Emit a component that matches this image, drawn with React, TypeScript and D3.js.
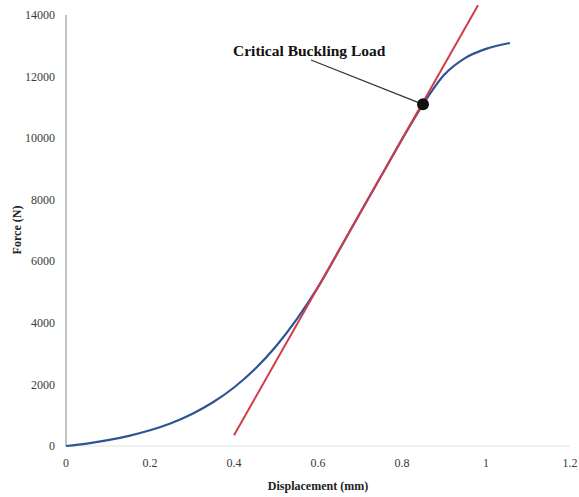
import React from "react";
import * as d3 from "d3";

// Force–displacement response of the specimen
const displacement = [0, 0.05, 0.1, 0.15, 0.2, 0.25, 0.3, 0.35, 0.4, 0.45, 0.5, 0.55, 0.6, 0.65, 0.7, 0.75, 0.8, 0.85, 0.9, 0.95, 1.0, 1.057];
const force = [0, 80, 190, 330, 510, 740, 1040, 1420, 1900, 2500, 3240, 4130, 5160, 6350, 7560, 8760, 9960, 11100, 12050, 12600, 12900, 13090];

// Linear (elastic) fit drawn as a straight line
const fitDisplacement = [0.4, 0.981];
const fitForce = [350, 14320];

// Critical buckling point
const criticalPoint = { x: 0.85, y: 11100 };
const criticalLabel = "Critical Buckling Load";

const xTicks = [0, 0.2, 0.4, 0.6, 0.8, 1, 1.2];
const yTicks = [0, 2000, 4000, 6000, 8000, 10000, 12000, 14000];

const W = 579;
const H = 497;
const left = 66;
const right = 570;
const top = 15;
const bottom = 446;

export default function App() {
  const x = d3.scaleLinear().domain([0, 1.2]).range([left, right]);
  const y = d3.scaleLinear().domain([0, 14000]).range([bottom, top]);

  const curve = d3
    .line<number>()
    .x((_, i) => x(displacement[i]))
    .y((d) => y(d))
    .curve(d3.curveMonotoneX)(force) as string;

  const fit = d3
    .line<number>()
    .x((_, i) => x(fitDisplacement[i]))
    .y((d) => y(d))(fitForce) as string;

  const px = x(criticalPoint.x);
  const py = y(criticalPoint.y);
  const serif = "'Liberation Serif', 'Times New Roman', serif";

  return (
    <svg
      width={W}
      height={H}
      style={{ position: "absolute", left: 0, top: 0, background: "#fff" }}
      fontFamily={serif}
    >
      {/* axes */}
      <line x1={left} x2={right} y1={bottom} y2={bottom} stroke="#e2e2e2" strokeWidth={1} />
      <line x1={left} x2={left} y1={top} y2={bottom} stroke="#9a9a9a" strokeWidth={1.2} />

      {yTicks.map((t) => (
        <text key={t} x={left - 11} y={y(t)} dy="0.35em" textAnchor="end" fontSize={12} fill="#3a3a3a">
          {t}
        </text>
      ))}
      {xTicks.map((t) => (
        <text key={t} x={x(t)} y={467} textAnchor="middle" fontSize={12} fill="#3a3a3a">
          {t}
        </text>
      ))}

      <text x={318} y={490} textAnchor="middle" fontSize={12} fontWeight="bold" fill="#222">
        Displacement (mm)
      </text>
      <text
        transform={`translate(21,${230}) rotate(-90)`}
        textAnchor="middle"
        fontSize={12}
        fontWeight="bold"
        fill="#222"
      >
        Force (N)
      </text>

      {/* data */}
      <path d={curve} fill="none" stroke="#2d5595" strokeWidth={2.2} />
      <path d={fit} fill="none" stroke="#d23c48" strokeWidth={2} />

      {/* annotation */}
      <line x1={311} y1={60} x2={px} y2={py} stroke="#333" strokeWidth={1.3} />
      <circle cx={px} cy={py} r={6} fill="#111" />
      <text x={233} y={56} fontSize={15.5} fontWeight="bold" fill="#111">
        {criticalLabel}
      </text>
    </svg>
  );
}
